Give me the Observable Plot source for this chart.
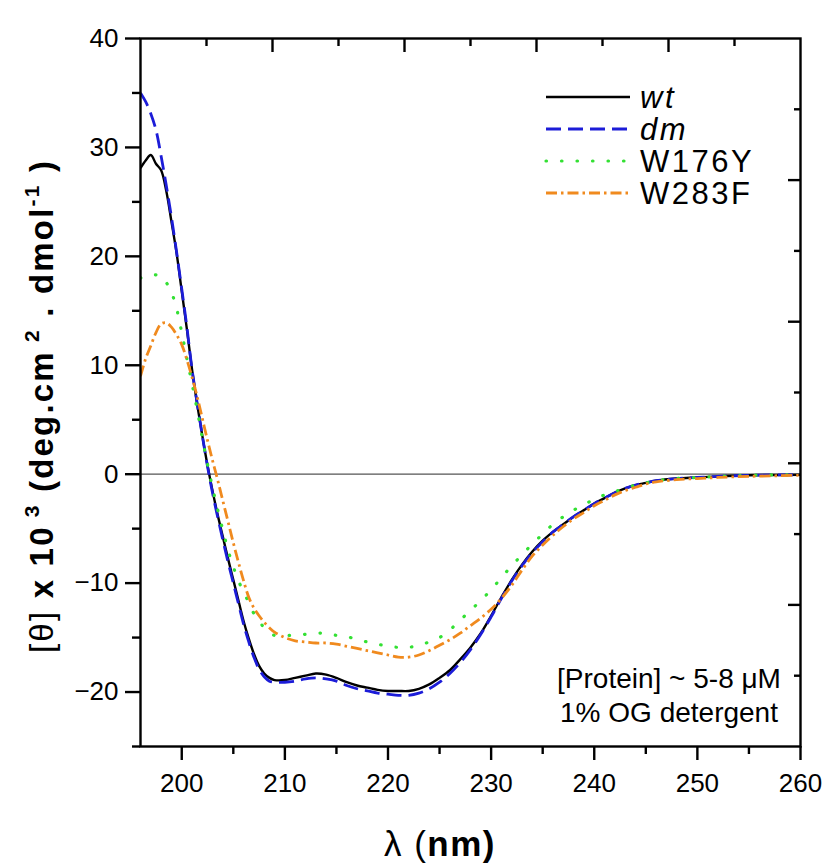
<!DOCTYPE html>
<html><head><meta charset="utf-8">
<script src="https://cdn.jsdelivr.net/npm/d3@7"></script>
<script src="https://cdn.jsdelivr.net/npm/@observablehq/plot@0.6"></script>
<style>
body{margin:0;background:#fff;}
#chart{width:830px;height:867px;}
</style>
</head><body><div id="chart"></div>
<script>
// wavelength grid (nm)
const lambda = [196,196.5,197,197.5,198,198.5,199,199.5,200,200.5,201,201.5,202,202.5,203,203.5,204,204.5,205,205.5,206,206.5,207,207.5,208,208.5,209,
  210,211,212,213,214,215,216,217,218,219,220,221,222,223,224,225,226,227,228,229,230,231,232,233,234,235,236,237,238,239,240,241,242,243,244,245,246,
  248,250,252,255,260];

const wt = [28.1,28.8,29.3,28.5,27.9,26.0,23.2,20.3,16.8,13.3,9.6,6.4,3.5,0.8,-1.6,-3.8,-5.8,-7.8,-9.7,-11.6,-13.5,-15.1,-16.5,-17.6,-18.3,-18.7,-18.9,
  -18.9,-18.7,-18.5,-18.3,-18.4,-18.7,-19.1,-19.4,-19.6,-19.8,-19.9,-19.9,-19.9,-19.7,-19.3,-18.7,-18.0,-17.0,-15.9,-14.6,-13.0,-11.3,-9.7,-8.3,-7.1,-6.1,-5.3,-4.6,-3.9,-3.3,-2.7,-2.2,-1.7,-1.3,-1.0,-0.8,-0.6,
  -0.4,-0.3,-0.2,-0.1,-0.05];

const dm = [35.0,34.2,33.1,31.6,29.2,26.5,23.6,20.4,17.0,13.5,9.6,6.5,3.5,0.7,-1.8,-4.0,-6.1,-8.1,-10.0,-11.9,-13.8,-15.4,-16.8,-17.9,-18.6,-19.0,-19.1,
  -19.1,-19.0,-18.8,-18.7,-18.8,-19.0,-19.4,-19.7,-19.9,-20.1,-20.2,-20.3,-20.3,-20.1,-19.7,-19.1,-18.3,-17.3,-16.1,-14.7,-13.1,-11.4,-9.8,-8.4,-7.2,-6.2,-5.3,-4.6,-3.9,-3.3,-2.7,-2.2,-1.7,-1.3,-1.0,-0.8,-0.6,
  -0.4,-0.3,-0.2,-0.1,-0.05];

const w176y = [18.0,18.2,18.3,18.3,18.2,17.6,16.7,15.2,13.0,10.6,8.3,5.9,3.3,0.9,-1.3,-3.3,-5.2,-7.0,-8.5,-9.8,-10.8,-11.8,-12.8,-13.5,-14.1,-14.5,-14.8,
  -14.8,-14.8,-14.7,-14.6,-14.6,-14.8,-14.9,-15.2,-15.4,-15.6,-15.8,-15.9,-15.9,-15.7,-15.4,-15.0,-14.3,-13.4,-12.5,-11.6,-10.6,-9.5,-8.4,-7.4,-6.4,-5.5,-4.6,-3.9,-3.3,-2.8,-2.3,-1.9,-1.6,-1.3,-1.0,-0.8,-0.6,
  -0.4,-0.3,-0.2,-0.1,-0.05];

const w283f = [9.0,10.6,11.8,13.0,13.8,13.9,13.5,12.8,11.9,10.5,8.9,7.1,5.1,3.1,1.2,-0.6,-2.5,-4.4,-6.3,-8.1,-9.8,-11.3,-12.3,-13.0,-13.6,-14.1,-14.5,
  -15.0,-15.3,-15.4,-15.5,-15.5,-15.6,-15.8,-16.0,-16.2,-16.4,-16.6,-16.8,-16.8,-16.6,-16.2,-15.7,-15.2,-14.6,-13.9,-13.2,-12.4,-11.4,-10.2,-8.8,-7.5,-6.5,-5.6,-4.8,-4.1,-3.5,-2.9,-2.4,-1.9,-1.5,-1.2,-0.9,-0.7,
  -0.5,-0.4,-0.3,-0.2,-0.1];

const seriesNames = ["wt","dm","W176Y","W283F"];
const seriesItalic = [true,true,false,false];
const seriesValues = [wt, dm, w176y, w283f];
const seriesColors = ["#000000","#1c1cd8","#33e033","#f08a1e"];
const seriesDash = [null,"15,7","0.5,15","11,4,2.5,4"];
const seriesWidth = [2.4,2.8,3.2,2.8];
const seriesCap = ["butt","butt","round","butt"];

const xDomain = [196,260];
const yDomain = [-25,40];
const xMajor = [200,210,220,230,240,250,260];
const xMinor = [205,215,225,235,245,255];
const yMajor = [-20,-10,0,10,20,30,40];
const yMinor = [-25,-15,-5,5,15,25,35];
// mirrored (top/right) axes: 10 equal divisions of the frame
const topTicks = d3.range(1,10).map(i => xDomain[0] + i*(xDomain[1]-xDomain[0])/10);
const rightTicks = d3.range(1,10).map(i => yDomain[0] + i*(yDomain[1]-yDomain[0])/10);

const FONT = "'Liberation Sans', Arial, Helvetica, sans-serif";

const lineMarks = seriesNames.map((name, k) =>
  Plot.line(lambda.map((x,i)=>({x, y: seriesValues[k][i]})), {
    x:"x", y:"y", stroke: seriesColors[k], strokeWidth: seriesWidth[k],
    strokeDasharray: seriesDash[k], strokeLinecap: seriesCap[k], curve:"catmull-rom", clip:true
  })
);

const axisStyle = {stroke:"black", strokeWidth:2.4, fontSize:26, label:null};

const plot = Plot.plot({
  width: 830, height: 867,
  marginLeft: 140, marginRight: 30, marginTop: 38, marginBottom: 121,
  style: {fontFamily: FONT, background:"#fff", color:"#000"},
  x: {domain: xDomain, label: null},
  y: {domain: yDomain, label: null},
  marks: [
    Plot.ruleY([0], {stroke:"#555", strokeWidth:1.2}),
    ...lineMarks,
    Plot.axisX({...axisStyle, ticks: xMajor, tickSize: 14, tickPadding: 13}),
    Plot.axisX({...axisStyle, ticks: xMinor, tickSize: 8, fill:"none"}),
    Plot.axisY({...axisStyle, ticks: yMajor, tickSize: 15, tickPadding: 7}),
    Plot.axisY({...axisStyle, ticks: yMinor, tickSize: 8, fill:"none"}),
    Plot.axisX({...axisStyle, anchor:"top", ticks: topTicks.filter((d,i)=>i%2===1), tickSize: -13, fill:"none"}),
    Plot.axisX({...axisStyle, anchor:"top", ticks: topTicks.filter((d,i)=>i%2===0), tickSize: -7, fill:"none"}),
    Plot.axisY({...axisStyle, anchor:"right", ticks: rightTicks.filter((d,i)=>i%2===1), tickSize: -13, fill:"none"}),
    Plot.axisY({...axisStyle, anchor:"right", ticks: rightTicks.filter((d,i)=>i%2===0), tickSize: -7, fill:"none"}),
    Plot.frame({stroke:"black", strokeWidth:2.4})
  ]
});

const svg = d3.select(plot);

// y-axis title
const yt = svg.append("text")
  .attr("transform","translate(53,407) rotate(-90)")
  .attr("text-anchor","middle")
  .attr("textLength", 492).attr("lengthAdjust","spacing")
  .attr("font-family", FONT).attr("font-size", 33).attr("fill","#000");
yt.append("tspan").text("[θ]");
yt.append("tspan").attr("font-weight","bold").text(" x 10");
yt.append("tspan").attr("font-weight","bold").attr("font-size",21).attr("dy",-14).text(" 3");
yt.append("tspan").attr("font-weight","bold").attr("dy",14).text(" (deg.cm");
yt.append("tspan").attr("font-weight","bold").attr("font-size",21).attr("dy",-14).text(" 2");
yt.append("tspan").attr("font-weight","bold").attr("dy",14).text(" . dmol");
yt.append("tspan").attr("font-weight","bold").attr("font-size",21).attr("dy",-14).text("-1");
yt.append("tspan").attr("font-weight","bold").attr("dy",14).text(" )");

// x-axis title
const xt = svg.append("text")
  .attr("x", 440).attr("y", 856).attr("text-anchor","middle")
  .attr("font-family", FONT).attr("font-size", 35).attr("letter-spacing", 1.5).attr("fill","#000");
xt.append("tspan").text("λ (");
xt.append("tspan").attr("font-weight","bold").text("nm)");

// legend
const lg = svg.append("g");
seriesNames.forEach((name,k) => {
  const cy = 97 + k*32;
  lg.append("line").attr("x1",546).attr("x2",630).attr("y1",cy).attr("y2",cy)
    .attr("stroke", seriesColors[k]).attr("stroke-width", seriesWidth[k])
    .attr("stroke-dasharray", seriesDash[k]).attr("stroke-linecap", seriesCap[k]);
  lg.append("text").attr("x",640).attr("y",cy+11)
    .attr("text-anchor","start")
    .attr("font-family",FONT).attr("font-size",31).attr("letter-spacing",2.5)
    .attr("font-style", seriesItalic[k] ? "italic" : "normal")
    .attr("fill","#000").text(name);
});

// annotation
const an = svg.append("text").attr("text-anchor","middle")
  .attr("font-family",FONT).attr("font-size",28).attr("fill","#000");
an.append("tspan").attr("x",669).attr("y",688).text("[Protein] ~ 5-8 μM");
an.append("tspan").attr("x",669).attr("y",722).text("1% OG detergent");

document.getElementById("chart").appendChild(plot);
</script>
</body></html>
